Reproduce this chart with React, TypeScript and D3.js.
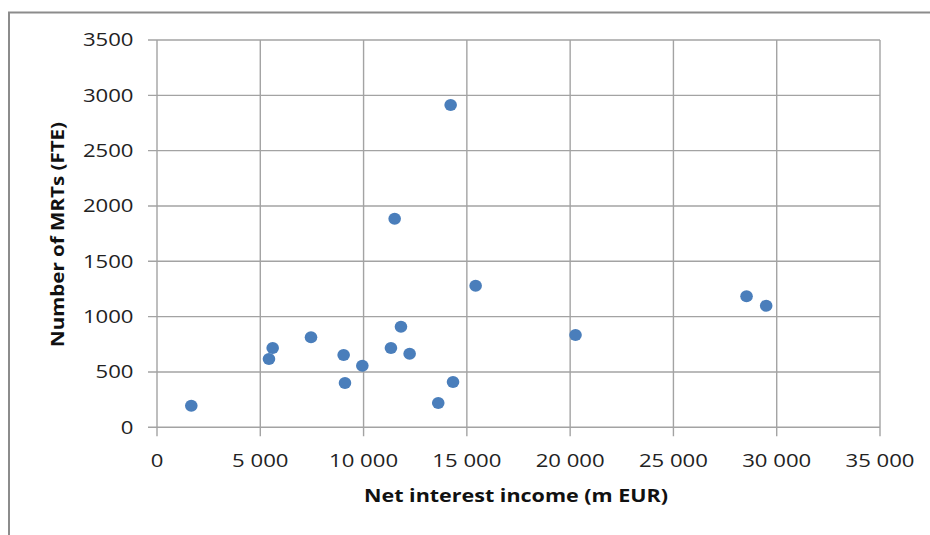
import React from 'react';
import * as d3 from 'd3';

// net interest income (m EUR) vs number of MRTs (FTE)
const netInterestIncome = [
  1660, 5600, 5420, 7455, 9035, 9100, 9940, 11325, 11810, 12230,
  13615, 14330, 15425, 14215, 11505, 20260, 28540, 29490,
];
const mrtCount = [
  195, 716, 617, 813, 653, 400, 557, 716, 909, 665,
  220, 409, 1280, 2912, 1885, 834, 1184, 1099,
];
const xTicks = [0, 5000, 10000, 15000, 20000, 25000, 30000, 35000];
const yTicks = [0, 500, 1000, 1500, 2000, 2500, 3000, 3500];

const width = 930;
const height = 535;
const plot = { left: 157, right: 880, top: 40, bottom: 427.3 };

const fmtX = (v: number) => (v >= 1000 ? `${Math.floor(v / 1000)} ${String(v % 1000).padStart(3, '0')}` : `${v}`);

const App: React.FC = () => {
  const x = d3.scaleLinear().domain([0, 35000]).range([plot.left, plot.right]);
  const y = d3.scaleLinear().domain([0, 3500]).range([plot.bottom, plot.top]);
  const font = "'Open Sans', sans-serif";
  const sx = 1.23;
  const gridColor = '#a3a3a3';

  return (
    <svg width={width} height={height} style={{ position: 'absolute', left: 0, top: 0, background: '#fff' }}>
      <rect x={9} y={12.5} width={1000} height={1000} fill="none" stroke="#8c8c8c" strokeWidth={2} />

      {/* grid */}
      {yTicks.map(t => (
        <line key={`gy${t}`} x1={plot.left - 9} x2={plot.right} y1={y(t)} y2={y(t)} stroke={gridColor} strokeWidth={1.4} />
      ))}
      {xTicks.map(t => (
        <line key={`gx${t}`} x1={x(t)} x2={x(t)} y1={plot.top} y2={plot.bottom + 9} stroke={gridColor} strokeWidth={1.4} />
      ))}

      {/* y tick labels */}
      {yTicks.map(t => (
        <g key={`ly${t}`} transform={`translate(133.5, ${y(t) + 6.3}) scale(${sx}, 1)`}>
          <text textAnchor="end" fontFamily={font} fontSize={18} fill="#222">{t}</text>
        </g>
      ))}
      {/* x tick labels */}
      {xTicks.map(t => (
        <g key={`lx${t}`} transform={`translate(${x(t)}, 467) scale(${sx}, 1)`}>
          <text textAnchor="middle" fontFamily={font} fontSize={18} fill="#222">{fmtX(t)}</text>
        </g>
      ))}

      {/* points */}
      {netInterestIncome.map((v, i) => (
        <ellipse key={i} cx={x(v)} cy={y(mrtCount[i])} rx={6.3} ry={6} fill="#4a7ebb" />
      ))}

      {/* axis titles */}
      <text x={516} y={502} textAnchor="middle" fontFamily={font} fontSize={18} fontWeight="bold" fill="#111"
        textLength={304} lengthAdjust="spacingAndGlyphs">Net interest income (m EUR)</text>
      <text transform="translate(64, 234.5) rotate(-90)" textAnchor="middle" fontFamily={font} fontSize={18}
        fontWeight="bold" fill="#111" textLength={225} lengthAdjust="spacingAndGlyphs">Number of MRTs (FTE)</text>
    </svg>
  );
};

export default App;
